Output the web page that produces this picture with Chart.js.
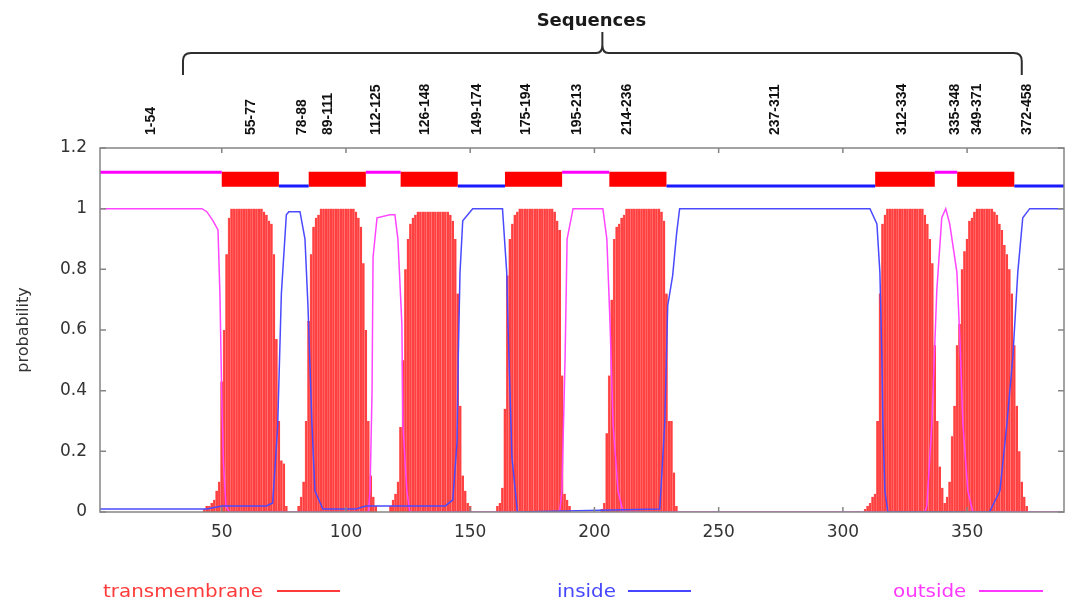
<!DOCTYPE html>
<html>
<head>
<meta charset="utf-8">
<title>TMHMM posterior probabilities</title>
<script src="https://cdn.jsdelivr.net/npm/chart.js@4.4.1/dist/chart.umd.min.js"></script>
<style>
  body { margin: 0; background: #fff; }
  #wrap { width: 1072px; height: 604px; }
</style>
</head>
<body>
<div id="wrap"><canvas id="myChart"></canvas></div>
<script>
// posterior probabilities (residue position -> probability)
const insideX = [1, 44, 50, 68, 70.5, 72.5, 74, 76, 77, 81.5, 83.5, 84.7, 86.3, 87.5, 90.7, 104, 108, 140, 143, 144.7,
    145.2, 145.9, 147, 151, 163, 164.7, 165.2, 166.8, 169, 226.3, 228.3, 229.5, 231.5, 233.1, 234.3, 310.9, 313.7, 314.9, 315.7, 316.1,
    316.9, 318.1, 359, 363.2, 366, 368.4, 370.4, 372.4, 375.2, 389];
const insideY = [0.01, 0.01, 0.02, 0.02, 0.03, 0.28, 0.72, 0.98, 0.99, 0.99, 0.9, 0.68, 0.29, 0.07, 0.01, 0.01, 0.02, 0.02, 0.04, 0.23,
    0.51, 0.79, 0.96, 1, 1, 0.79, 0.62, 0.18, 0, 0.01, 0.29, 0.68, 0.78, 0.92, 1, 1, 0.95, 0.79, 0.51, 0.29,
    0.07, 0, 0, 0.07, 0.29, 0.51, 0.79, 0.97, 1, 1];

const outsideX = [1, 42, 44, 46.5, 48.5, 49.3, 50, 50.7, 51.7, 53, 109, 109.7, 110.5, 110.9, 112.5, 117.7, 119.7, 120.9, 122.5, 122.9,
    124.5, 125.7, 186, 186.9, 188.2, 189, 191.4, 203.4, 205, 206.3, 207.5, 209.5, 211.5, 333, 333.8, 335.8, 337.8, 339.8, 341.4, 343,
    345.9, 347.1, 348.3, 350.3, 352.3, 389];
const outsideY = [1, 1, 0.99, 0.96, 0.93, 0.71, 0.38, 0.16, 0.02, 0, 0, 0.07, 0.4, 0.84, 0.97, 0.98, 0.98, 0.9, 0.62, 0.29,
    0.07, 0, 0, 0.07, 0.51, 0.9, 1, 1, 0.9, 0.62, 0.29, 0.07, 0, 0, 0.02, 0.29, 0.73, 0.97, 1, 0.95,
    0.79, 0.57, 0.29, 0.07, 0, 0];

// transmembrane probability per residue, one list per helix
const tmStart = [43, 81, 118, 161, 203, 309, 342];
const tmProb = [
    [0.01, 0.02, 0.02, 0.03, 0.04, 0.07, 0.1, 0.43, 0.6, 0.85, 0.97, 1, 1, 1, 1, 1, 1, 1, 1, 1, 1, 1, 1, 1,
     0.99, 0.98, 0.96, 0.95, 0.85, 0.57, 0.3, 0.17, 0.16, 0.02],
    [0.02, 0.05, 0.1, 0.3, 0.63, 0.85, 0.94, 0.97, 0.98, 1, 1, 1, 1, 1, 1, 1, 1, 1, 1, 1, 1, 1, 1,
     0.99, 0.97, 0.94, 0.82, 0.6, 0.3, 0.12, 0.05, 0.02],
    [0.02, 0.04, 0.06, 0.1, 0.28, 0.5, 0.8, 0.9, 0.95, 0.97, 0.98, 0.99, 0.99, 0.99, 0.99, 0.99, 0.99, 0.99, 0.99, 0.99, 0.99, 0.99, 0.99, 0.99,
     0.98, 0.96, 0.9, 0.72, 0.35, 0.12, 0.07, 0.03, 0.02],
    [0.02, 0.03, 0.08, 0.34, 0.78, 0.9, 0.95, 0.98, 0.99, 1, 1, 1, 1, 1, 1, 1, 1, 1, 1, 1, 1, 1, 1,
     0.99, 0.96, 0.93, 0.45, 0.06, 0.04, 0.02],
    [0.01, 0.03, 0.26, 0.45, 0.7, 0.9, 0.94, 0.95, 0.97, 0.98, 1, 1, 1, 1, 1, 1, 1, 1, 1, 1, 1, 1, 1, 1,
     0.99, 0.96, 0.72, 0.3, 0.3, 0.13, 0.02],
    [0.01, 0.02, 0.03, 0.05, 0.06, 0.3, 0.72, 0.95, 0.98, 1, 1, 1, 1, 1, 1, 1, 1, 1, 1, 1, 1, 1, 1, 1,
     0.98, 0.95, 0.9, 0.82, 0.55, 0.3, 0.15, 0.08, 0.03],
    [0.05, 0.1, 0.25, 0.35, 0.55, 0.62, 0.8, 0.86, 0.9, 0.96, 0.97, 0.99, 1, 1, 1, 1, 1, 1, 1,
     0.99, 0.98, 0.95, 0.93, 0.88, 0.85, 0.8, 0.72, 0.55, 0.35, 0.2, 0.1, 0.05, 0.02]
];

// predicted topology (segment start, end)
const outsideSeg = [[1, 50], [108, 122], [187, 206], [337, 346]];
const tmSeg = [[50, 73], [85, 108], [122, 145], [164, 187], [206, 229], [313, 337], [346, 369]];
const insideSeg = [[73, 85], [145, 164], [229, 313], [369, 389]];

// sequence range annotations above the plot
const seqLabels = ['1-54', '55-77', '78-88', '89-111', '112-125', '126-148', '149-174', '175-194',
    '195-213', '214-236', '237-311', '312-334', '335-348', '349-371', '372-458'];
const seqLabelPos = [21.4, 62, 82.3, 93, 112.3, 132, 152.8, 172.5, 193, 213.3, 272.7, 324, 345.3, 354.2, 374.3];
const braceFrom = 34.4, braceTo = 372;

const xTicks = [50, 100, 150, 200, 250, 300, 350];

Chart.defaults.font.family = "'DejaVu Sans', sans-serif";

function pairs(xs, ys) {
    return xs.map((v, i) => ({x: v, y: ys[i]}));
}

function tmBars() {
    const pts = [];
    tmStart.forEach((s, h) => {
        tmProb[h].forEach((p, i) => pts.push({x: s + i, y: p}));
    });
    return pts;
}

function track(segs, level) {
    const pts = [];
    segs.forEach(([a, b]) => {
        pts.push({x: a, y: level}, {x: b, y: level}, {x: b, y: null});
    });
    return pts;
}

function wideText(ctx, text, px, py, sx) {
    ctx.save();
    ctx.translate(px, py);
    ctx.scale(sx, 1);
    ctx.fillText(text, 0, 0);
    ctx.restore();
}

const decor = {
    id: 'decor',
    afterDatasetsDraw(chart) {
        const {ctx, chartArea: a, scales: {x, y}} = chart;
        ctx.save();
        ctx.strokeStyle = '#858585';
        ctx.lineWidth = 1.5;
        ctx.strokeRect(a.left, a.top, a.right - a.left, a.bottom - a.top);
        // gnuplot style ticks, pointing inward on all four sides
        ctx.beginPath();
        x.ticks.forEach(t => {
            const px = x.getPixelForValue(t.value);
            ctx.moveTo(px, a.bottom); ctx.lineTo(px, a.bottom - 5);
            ctx.moveTo(px, a.top); ctx.lineTo(px, a.top + 5);
        });
        y.ticks.forEach(t => {
            const py = y.getPixelForValue(t.value);
            ctx.moveTo(a.left, py); ctx.lineTo(a.left + 6, py);
            ctx.moveTo(a.right, py); ctx.lineTo(a.right - 6, py);
        });
        ctx.stroke();
        ctx.restore();
    },
    afterDraw(chart) {
        const {ctx, scales: {x}} = chart;
        ctx.save();

        // segment labels
        ctx.fillStyle = '#111';
        ctx.font = "bold 14px 'Liberation Sans', Arial, sans-serif";
        ctx.textAlign = 'left';
        ctx.textBaseline = 'middle';
        seqLabels.forEach((s, i) => {
            ctx.save();
            ctx.translate(x.getPixelForValue(seqLabelPos[i]), 135);
            ctx.rotate(-Math.PI / 2);
            ctx.fillText(s, 0, 0);
            ctx.restore();
        });

        // curly brace
        const bl = x.getPixelForValue(braceFrom), br = x.getPixelForValue(braceTo), bm = (bl + br) / 2;
        ctx.strokeStyle = '#2e2e2e';
        ctx.lineWidth = 2;
        ctx.beginPath();
        ctx.moveTo(bl, 75);
        ctx.lineTo(bl, 61);
        ctx.quadraticCurveTo(bl, 53, bl + 8, 53);
        ctx.lineTo(bm - 6, 53);
        ctx.quadraticCurveTo(bm, 53, bm, 45);
        ctx.lineTo(bm, 32);
        ctx.lineTo(bm, 45);
        ctx.quadraticCurveTo(bm, 53, bm + 6, 53);
        ctx.lineTo(br - 8, 53);
        ctx.quadraticCurveTo(br, 53, br, 61);
        ctx.lineTo(br, 75);
        ctx.stroke();

        ctx.fillStyle = '#1a1a1a';
        ctx.font = "bold 18px 'DejaVu Sans', sans-serif";
        ctx.textAlign = 'center';
        ctx.textBaseline = 'alphabetic';
        ctx.fillText('Sequences', bm - 11, 26);

        // legend along the bottom
        const legend = [
            ['transmembrane', '#ff3a3a', 103, 277, 340],
            ['inside', '#4646ff', 557, 628, 691],
            ['outside', '#ff38ff', 893, 979, 1043]
        ];
        ctx.font = "17px 'DejaVu Sans', sans-serif";
        ctx.textAlign = 'left';
        legend.forEach(([t, c, tx, l1, l2]) => {
            ctx.fillStyle = c;
            wideText(ctx, t, tx, 597, 1.17);
            ctx.strokeStyle = c;
            ctx.lineWidth = 2;
            ctx.beginPath();
            ctx.moveTo(l1, 591);
            ctx.lineTo(l2, 591);
            ctx.stroke();
        });
        ctx.restore();
    }
};

const ctx = document.getElementById('myChart').getContext('2d');
const myChart = new Chart(ctx, {
    type: 'bar',
    data: {
        datasets: [
            {
                type: 'line',
                label: 'outside track',
                data: track(outsideSeg, 1.12),
                borderColor: '#ff00ff',
                borderWidth: 3,
                borderCapStyle: 'butt',
                pointRadius: 0,
                order: 1
            },
            {
                type: 'line',
                label: 'inside track',
                data: track(insideSeg, 1.075),
                borderColor: '#1a1aff',
                borderWidth: 3,
                borderCapStyle: 'butt',
                pointRadius: 0,
                order: 1
            },
            {
                type: 'line',
                label: 'transmembrane track',
                data: track(tmSeg, 1.097),
                borderColor: '#ff0000',
                borderWidth: 15,
                borderCapStyle: 'butt',
                pointRadius: 0,
                order: 1
            },
            {
                type: 'line',
                label: 'inside',
                data: pairs(insideX, insideY),
                borderColor: '#4a4aff',
                borderWidth: 1.5,
                pointRadius: 0,
                order: 2
            },
            {
                type: 'line',
                label: 'outside',
                data: pairs(outsideX, outsideY),
                borderColor: '#ff45ff',
                borderWidth: 1.5,
                pointRadius: 0,
                order: 2
            },
            {
                type: 'bar',
                label: 'transmembrane',
                data: tmBars(),
                backgroundColor: '#ff4040',
                borderColor: '#ff7a7a',
                borderWidth: {left: 0.5, right: 0, top: 0, bottom: 0},
                barPercentage: 1,
                categoryPercentage: 1,
                order: 3
            }
        ]
    },
    options: {
        responsive: true,
        maintainAspectRatio: false,
        animation: false,
        layout: {
            padding: {top: 148, right: 8, bottom: 52, left: 0}
        },
        plugins: {
            legend: {display: false},
            tooltip: {enabled: false}
        },
        scales: {
            x: {
                type: 'linear',
                min: 1,
                max: 389,
                offset: false,
                grid: {display: false, drawTicks: false},
                border: {display: false},
                ticks: {
                    stepSize: 50,
                    padding: 10,
                    color: '#333',
                    font: {size: 17}
                },
                afterBuildTicks: (s) => {
                    s.ticks = s.ticks.filter(t => xTicks.includes(t.value));
                },
                afterFit: (s) => { s.height = 40; }
            },
            y: {
                min: 0,
                max: 1.2,
                grid: {display: false, drawTicks: false},
                border: {display: false},
                ticks: {
                    stepSize: 0.2,
                    padding: 13,
                    color: '#333',
                    font: {size: 17},
                    callback: (v) => String(+v.toFixed(1))
                },
                title: {
                    display: true,
                    text: 'probability',
                    color: '#333',
                    font: {size: 16},
                    padding: {top: 14, bottom: 0}
                },
                afterFit: (s) => { s.width = 100; }
            }
        }
    },
    plugins: [decor]
});
</script>
</body>
</html>
